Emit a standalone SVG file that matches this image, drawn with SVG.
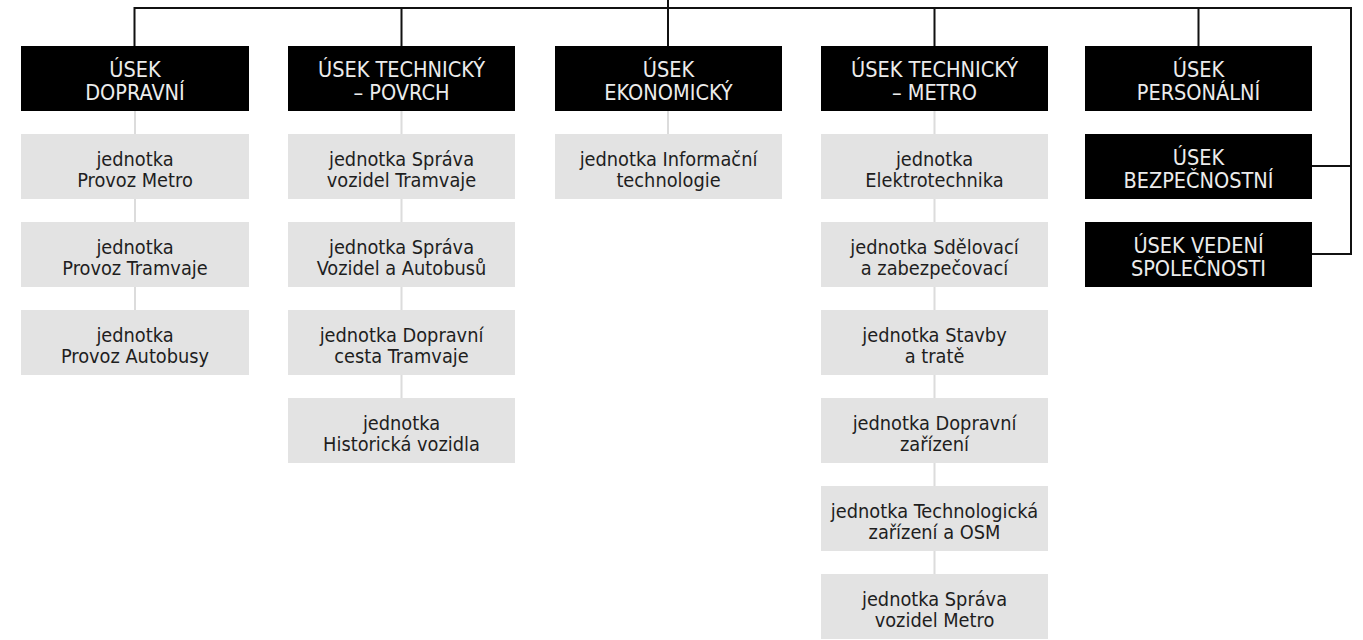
<svg xmlns="http://www.w3.org/2000/svg" width="1363" height="640" viewBox="0 0 1363 640">
<style>
.b{fill:#000}
.g{fill:#e3e3e3}
.bt{fill:#ececec;font-family:"DejaVu Sans Condensed","DejaVu Sans",sans-serif;font-stretch:condensed;font-size:21.5px;text-anchor:middle}
.gt{fill:#1e1e1e;font-family:"DejaVu Sans Condensed","DejaVu Sans",sans-serif;font-stretch:condensed;font-size:19.8px;text-anchor:middle}
.c{stroke:#111;stroke-width:2;fill:none}
.cl{stroke:#dcdcdc;stroke-width:2;fill:none}
</style>
<g id="connectors">
<path class="cl" d="M135 111V375M401.5 111V463M668 111V199M934.5 111V639"/>
<path class="c" d="M668 0V8M134.5 46V8H1351V254H1312M1312 166H1351M401.5 8V46M668 8V46M934.5 8V46M1198.5 8V46"/>
</g>
<g id="n-dopravni"><rect class="b" x="21" y="46" width="228" height="65"/><text class="bt" x="135" y="77">ÚSEK</text><text class="bt" x="135" y="100">DOPRAVNÍ</text></g>
<g id="n-povrch"><rect class="b" x="288" y="46" width="227" height="65"/><text class="bt" x="401.5" y="77">ÚSEK TECHNICKÝ</text><text class="bt" x="401.5" y="100">– POVRCH</text></g>
<g id="n-ekonomicky"><rect class="b" x="555" y="46" width="227" height="65"/><text class="bt" x="668.5" y="77">ÚSEK</text><text class="bt" x="668.5" y="100">EKONOMICKÝ</text></g>
<g id="n-metro"><rect class="b" x="821" y="46" width="227" height="65"/><text class="bt" x="934.5" y="77">ÚSEK TECHNICKÝ</text><text class="bt" x="934.5" y="100">– METRO</text></g>
<g id="n-personalni"><rect class="b" x="1085" y="46" width="227" height="65"/><text class="bt" x="1198.5" y="77">ÚSEK</text><text class="bt" x="1198.5" y="100">PERSONÁLNÍ</text></g>
<g id="n-bezpecnostni"><rect class="b" x="1085" y="134" width="227" height="65"/><text class="bt" x="1198.5" y="165">ÚSEK</text><text class="bt" x="1198.5" y="188">BEZPEČNOSTNÍ</text></g>
<g id="n-vedeni"><rect class="b" x="1085" y="222" width="227" height="65"/><text class="bt" x="1198.5" y="253">ÚSEK VEDENÍ</text><text class="bt" x="1198.5" y="276">SPOLEČNOSTI</text></g>

<g id="u-provoz-metro"><rect class="g" x="21" y="134" width="228" height="65"/><text class="gt" x="135" y="166">jednotka</text><text class="gt" x="135" y="186.5">Provoz Metro</text></g>
<g id="u-provoz-tramvaje"><rect class="g" x="21" y="222" width="228" height="65"/><text class="gt" x="135" y="254">jednotka</text><text class="gt" x="135" y="274.5">Provoz Tramvaje</text></g>
<g id="u-provoz-autobusy"><rect class="g" x="21" y="310" width="228" height="65"/><text class="gt" x="135" y="342">jednotka</text><text class="gt" x="135" y="362.5">Provoz Autobusy</text></g>

<g id="u-sprava-tram"><rect class="g" x="288" y="134" width="227" height="65"/><text class="gt" x="401.5" y="166">jednotka Správa</text><text class="gt" x="401.5" y="186.5">vozidel Tramvaje</text></g>
<g id="u-sprava-bus"><rect class="g" x="288" y="222" width="227" height="65"/><text class="gt" x="401.5" y="254">jednotka Správa</text><text class="gt" x="401.5" y="274.5">Vozidel a Autobusů</text></g>
<g id="u-cesta-tram"><rect class="g" x="288" y="310" width="227" height="65"/><text class="gt" x="401.5" y="342">jednotka Dopravní</text><text class="gt" x="401.5" y="362.5">cesta Tramvaje</text></g>
<g id="u-historicka"><rect class="g" x="288" y="398" width="227" height="65"/><text class="gt" x="401.5" y="430">jednotka</text><text class="gt" x="401.5" y="450.5">Historická vozidla</text></g>

<g id="u-it"><rect class="g" x="555" y="134" width="227" height="65"/><text class="gt" x="668.5" y="166">jednotka Informační</text><text class="gt" x="668.5" y="186.5">technologie</text></g>

<g id="u-elektro"><rect class="g" x="821" y="134" width="227" height="65"/><text class="gt" x="934.5" y="166">jednotka</text><text class="gt" x="934.5" y="186.5">Elektrotechnika</text></g>
<g id="u-sdelovaci"><rect class="g" x="821" y="222" width="227" height="65"/><text class="gt" x="934.5" y="254">jednotka Sdělovací</text><text class="gt" x="934.5" y="274.5">a zabezpečovací</text></g>
<g id="u-stavby"><rect class="g" x="821" y="310" width="227" height="65"/><text class="gt" x="934.5" y="342">jednotka Stavby</text><text class="gt" x="934.5" y="362.5">a tratě</text></g>
<g id="u-dopravni-zar"><rect class="g" x="821" y="398" width="227" height="65"/><text class="gt" x="934.5" y="430">jednotka Dopravní</text><text class="gt" x="934.5" y="450.5">zařízení</text></g>
<g id="u-technologicka"><rect class="g" x="821" y="486" width="227" height="65"/><text class="gt" x="934.5" y="518">jednotka Technologická</text><text class="gt" x="934.5" y="538.5">zařízení a OSM</text></g>
<g id="u-sprava-metro"><rect class="g" x="821" y="574" width="227" height="65"/><text class="gt" x="934.5" y="606">jednotka Správa</text><text class="gt" x="934.5" y="626.5">vozidel Metro</text></g>
</svg>
